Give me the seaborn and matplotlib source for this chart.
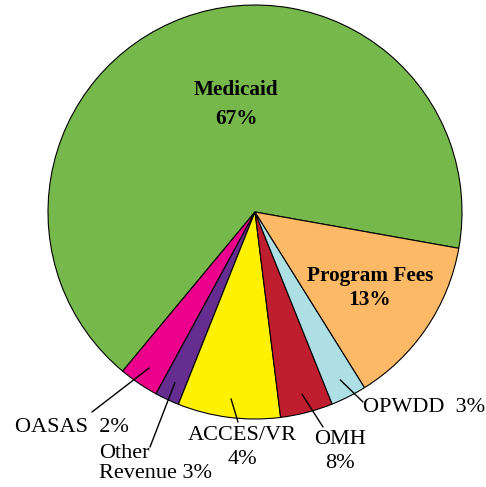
import numpy as np
import matplotlib
matplotlib.use("Agg")
import matplotlib.pyplot as plt
import seaborn as sns

# slice data, counter-clockwise from the Medicaid / Program Fees edge
sources = ["Medicaid", "OASAS", "Other Revenue", "ACCES/VR", "OMH", "OPWDD", "Program Fees"]
shares = [66.7, 3.1, 1.9, 8.0, 4.1, 2.8, 13.3]
label_text = ["Medicaid\n67%", "OASAS  2%", "Other\nRevenue 3%", "ACCES/VR\n4%",
              "OMH\n8%", "OPWDD  3%", "Program Fees\n13%"]
colors = ["#76b84b", "#ec008c", "#662d91", "#fff200", "#be1e2d", "#addfe5", "#fdb965"]

sns.set_style("white")
plt.rcParams['font.family'] = ['Liberation Serif', 'DejaVu Serif']
plt.rcParams['text.color'] = 'black'

W, H = 486, 487
fig = plt.figure(figsize=(W / 100, H / 100), dpi=100)
ax = fig.add_axes([0, 0, 1, 1])

cx, cy, R = 255, H - 212, 207
wedges, _ = ax.pie(shares, colors=colors, startangle=-10.1, counterclock=True,
                   center=(cx, cy), radius=R,
                   wedgeprops=dict(edgecolor="black", linewidth=0.8))
ax.set_xlim(0, W)
ax.set_ylim(0, H)
ax.set_aspect("equal")
ax.axis("off")

# bold labels inside the big slices: x, y of each line (pixels from top)
inside = {"Medicaid": (236, [90, 119]), "Program Fees": (370, [276, 300])}
for name, (x, ys) in inside.items():
    lines = label_text[sources.index(name)].split("\n")
    for line, y in zip(lines, ys):
        ax.text(x, H - y, line, ha="center", va="center", fontsize=15.3,
                fontweight="bold", color="black")

# outer labels with leader lines: (line end, text x, line ys, ha)
outside = {
    "OASAS": ((92, 412), 15, [427], "left"),
    "Other Revenue": ((150, 447), 99, [453, 474], "left"),
    "ACCES/VR": ((238, 422), 242, [436, 460], "center"),
    "OMH": ((323, 427), 340, [439, 463], "center"),
    "OPWDD": ((363, 402), 363, [407], "left"),
}
for name, ((lx, ly), tx, ys, ha) in outside.items():
    i = sources.index(name)
    w = wedges[i]
    mid = np.deg2rad((w.theta1 + w.theta2) / 2)
    sx = cx + 0.91 * R * np.cos(mid)
    sy = cy + 0.91 * R * np.sin(mid)
    ax.annotate("", xy=(sx, sy), xytext=(lx, H - ly),
                arrowprops=dict(arrowstyle="-", color="black", lw=1.0,
                                shrinkA=0, shrinkB=0))
    for line, y in zip(label_text[i].split("\n"), ys):
        ax.text(tx, H - y, line, ha=ha, va="center", fontsize=16, color="black")

fig.savefig("out.png", dpi=100)
